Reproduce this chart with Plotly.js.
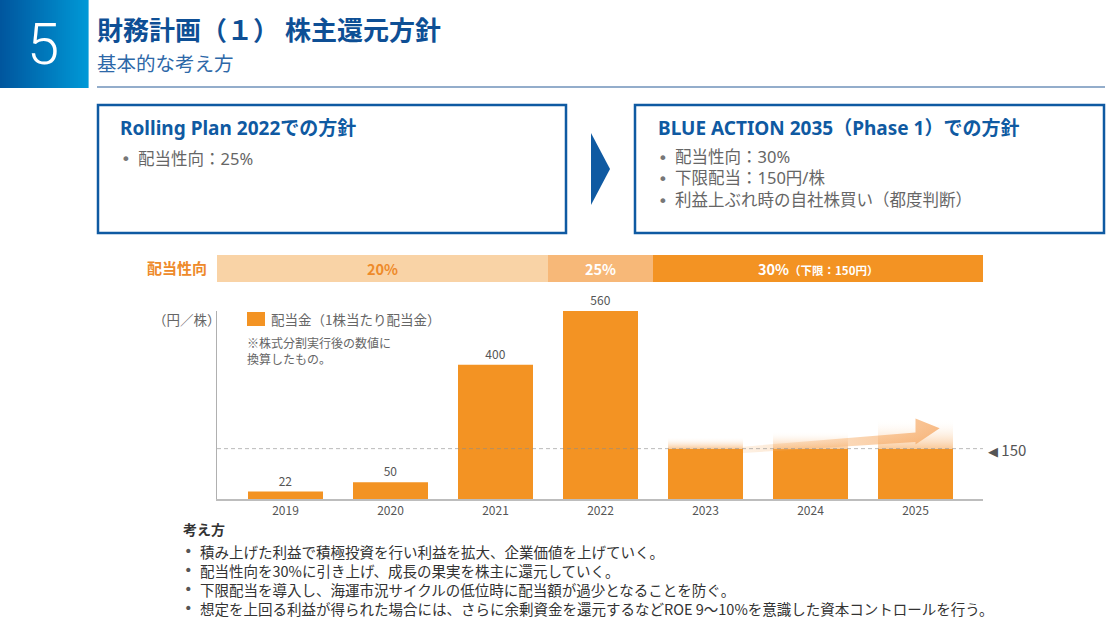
<!DOCTYPE html>
<html><head><meta charset="utf-8">
<script src="https://cdn.plot.ly/plotly-3.0.1.min.js"></script>
<style>html,body{margin:0;padding:0;background:#fff}#chart{width:1120px;height:627px}</style>
</head><body><div id="chart"></div>
<script>
// ---------- data ----------
const years = ['2019','2020','2021','2022','2023','2024','2025'];
const dividends = [22, 50, 400, 560, 150, 150, 150];
const showValue = [true, true, true, true, false, false, false];
const forecastLift = [0, 0, 0, 0, 35, 52, 88];
const floorDividend = 150;
const payoutLabels = ['20%', '25%', '30%'];
const payoutNotes = ['', '', '（下限：150円）'];
const payoutFirstIdx = [0, 3, 4];
const payoutLastIdx = [2, 3, 6];
const payoutRowLabel = '配当性向';
const unitLabel = '（円／株）';
const legendLabel = '配当金（1株当たり配当金）';
const noteLines = ['※株式分割実行後の数値に', '換算したもの。'];
const headerNumber = '5';
const titleText = '財務計画（１） 株主還元方針';
const subtitleText = '基本的な考え方';
const leftBoxTitle = 'Rolling Plan 2022での方針';
const leftBoxItems = ['配当性向：25%'];
const rightBoxTitle = 'BLUE ACTION 2035（Phase 1）での方針';
const rightBoxItems = ['配当性向：30%', '下限配当：150円/株', '利益上ぶれ時の自社株買い（都度判断）'];
const thinkingTitle = '考え方';
const thinkingItems = [
  '積み上げた利益で積極投資を行い利益を拡大、企業価値を上げていく。',
  '配当性向を30%に引き上げ、成長の果実を株主に還元していく。',
  '下限配当を導入し、海運市況サイクルの低位時に配当額が過少となることを防ぐ。',
  '想定を上回る利益が得られた場合には、さらに余剰資金を還元するなどROE 9～10%を意識した資本コントロールを行う。'
];

// ---------- style / geometry ----------
const W = 1120, H = 627;
const PL = 217, PR = 983, PT = 311, PB = 499;
const PITCH = 105, FIRST_C = 285.5, BARW = 75;
const xmin = -(FIRST_C - PL) / PITCH;
const xmax = xmin + (PR - PL) / PITCH;
const JP = '"Noto Sans CJK JP", "Noto Sans", sans-serif';
const LATIN_JP = '"Noto Sans", "Noto Sans CJK JP", sans-serif';
const BULLET = '"DejaVu Sans", sans-serif';
const BLUE = '#0F5AA2';
const ORANGE = '#F39323';
const payoutFill = ['#F9D3A6', '#F7B878', '#F39323'];
const payoutText = ['#EE8A2A', '#FFFFFF', '#FFFFFF'];
const px = x => x / W;
const py = y => 1 - y / H;

const shapes = [];
const annotations = [];
function txt(text, x, y, size, color, opts) {
  opts = opts || {};
  annotations.push(Object.assign({
    text: text, xref: 'paper', yref: 'paper', x: px(x), y: py(y),
    xanchor: 'left', yanchor: opts.yanchor || 'middle', showarrow: false, borderpad: 0,
    align: 'left',
    font: {family: opts.family || JP, size: size, color: color, weight: opts.bold ? 700 : 400}
  }, opts.extra || {}));
}
function rectPx(x0, y0, x1, y1, fill, line) {
  shapes.push({type: 'rect', xref: 'paper', yref: 'paper',
    x0: px(x0), x1: px(x1), y0: py(y1), y1: py(y0),
    fillcolor: fill || 'rgba(0,0,0,0)',
    line: line || {width: 0}, layer: 'above'});
}

// header gradient block
const N = 44;
for (let i = 0; i < N; i++) {
  const t = i / (N - 1);
  const g = Math.round(86 + t * 66), b = Math.round(158 + t * 56);
  rectPx(i * 88 / N, 0, (i + 1) * 88 / N + 0.6, 88, `rgb(0,${g},${b})`);
}
annotations.push({text: headerNumber, xref: 'paper', yref: 'paper', x: px(43), y: py(44), xanchor: 'center', yanchor: 'middle',
  showarrow: false, font: {family: 'Roboto, "Liberation Sans", sans-serif', size: 58, color: '#fff', weight: 300}});
txt(titleText, 96, 29, 26, '#0E4F95', {bold: true});
txt(subtitleText, 96, 62, 19.5, '#2D68A8');
shapes.push({type: 'line', xref: 'paper', yref: 'paper', x0: px(97), x1: px(1105), y0: py(87), y1: py(87), line: {color: '#93ADCB', width: 2}});

// policy boxes
rectPx(98, 105, 566, 233, null, {color: BLUE, width: 2.5});
rectPx(635, 105, 1104, 233, null, {color: BLUE, width: 2.5});
shapes.push({type: 'path', xref: 'paper', yref: 'paper',
  path: `M ${px(591)} ${py(133)} L ${px(610)} ${py(169)} L ${px(591)} ${py(205)} Z`,
  fillcolor: BLUE, line: {width: 0}});
const BOX_FS = 16.5, BOX_LH = BOX_FS * 1.3;
txt(leftBoxTitle, 119, 128, 19, BLUE, {bold: true, family: LATIN_JP});
txt(leftBoxItems.map(() => '•').join('<br>'), 120, 160 - BOX_LH / 2, BOX_FS, '#777', {yanchor: 'top', family: BULLET});
txt(leftBoxItems.join('<br>'), 137, 156.5 - BOX_LH / 2, BOX_FS, '#666', {yanchor: 'top', family: LATIN_JP});
txt(rightBoxTitle, 657, 128, 19, BLUE, {bold: true, family: LATIN_JP});
txt(rightBoxItems.map(() => '•').join('<br>'), 657, 158.5 - BOX_LH / 2, BOX_FS, '#777', {yanchor: 'top', family: BULLET});
txt(rightBoxItems.join('<br>'), 674, 155 - BOX_LH / 2, BOX_FS, '#666', {yanchor: 'top', family: LATIN_JP});

// payout ratio strip
payoutLabels.forEach((lab, i) => {
  const x0 = payoutFirstIdx[i] === 0 ? xmin : payoutFirstIdx[i] - 0.5;
  const x1 = payoutLastIdx[i] === years.length - 1 ? xmax : payoutLastIdx[i] + 0.5;
  shapes.push({type: 'rect', xref: 'x', yref: 'paper', x0: x0, x1: x1, y0: py(282), y1: py(255),
    fillcolor: payoutFill[i], line: {width: 0}, layer: 'below'});
  const note = payoutNotes[i] ? `<span style="font-size:11.5px">${payoutNotes[i]}</span>` : '';
  annotations.push({text: lab + note, xref: 'x', yref: 'paper', x: (x0 + x1) / 2, y: py(268.5),
    xanchor: 'center', yanchor: 'middle', showarrow: false,
    font: {family: JP, size: 14.5, color: payoutText[i], weight: 700}});
});
txt(payoutRowLabel, 146, 268, 15, '#EE8A2A', {bold: true});

// legend & notes
txt(unitLabel, 152, 319, 13.5, '#666');
rectPx(247, 312, 265, 326, ORANGE);
txt(legendLabel, 270, 319, 13.5, '#666');
txt(noteLines.join('<br>'), 246, 333, 12, '#666', {yanchor: 'top'});

// floor line
shapes.push({type: 'line', xref: 'x', yref: 'y', x0: xmin, x1: xmax, y0: floorDividend, y1: floorDividend,
  line: {color: 'rgba(140,140,140,0.6)', width: 1, dash: '4px,3px'}, layer: 'above'});
txt('<span style="font-family:DejaVu Sans;font-size:13px">◀</span> 150', 987, 449, 15, '#555');

// thinking text
const TH_FS = 14.5, TH_LH = TH_FS * 1.3;
txt(thinkingTitle, 182, 529, 14, '#333', {bold: true});
txt(thinkingItems.map(() => '•').join('<br>'), 183, 551.5 - TH_LH / 2, TH_FS, '#555', {yanchor: 'top', family: BULLET});
txt(thinkingItems.join('<br>'), 199, 549 - TH_LH / 2, TH_FS, '#333', {yanchor: 'top'});

// ---------- traces ----------
const xs = years.map((_, i) => i);
const traces = [];
// glow above forecast bars
xs.forEach(i => {
  if (forecastLift[i] > 0) {
    const a = i - BARW / PITCH / 2, b = i + BARW / PITCH / 2;
    const y0 = dividends[i], y1 = dividends[i] + forecastLift[i];
    traces.push({type: 'scatter', mode: 'lines', x: [a, b, b, a, a], y: [y0, y0, y1, y1, y0],
      fill: 'toself', line: {width: 0}, fillcolor: 'rgba(249,200,150,0.35)',
      fillgradient: {type: 'vertical', colorscale: [[0, 'rgba(248,188,128,0.8)'], [1, 'rgba(255,255,255,0)']]},
      hoverinfo: 'skip', showlegend: false});
  }
});
// rising arrow
(function () {
  const s = 4 + BARW / PITCH / 2, e = 6.0, tip = 6.23;
  traces.push({type: 'scatter', mode: 'lines',
    x: [s, e, e, tip, e, e, s, s],
    y: [137, 170, 162, 211, 240, 198, 156, 137],
    fill: 'toself', line: {width: 0}, fillcolor: 'rgba(246,170,100,0.45)',
    fillgradient: {type: 'horizontal', colorscale: [[0, 'rgba(248,185,120,0.2)'], [1, 'rgba(245,160,85,0.7)']]},
    hoverinfo: 'skip', showlegend: false});
})();
traces.unshift({type: 'bar', x: xs, y: dividends, width: BARW / PITCH,
  marker: {color: ORANGE, line: {width: 0}},
  text: dividends.map((v, i) => showValue[i] ? String(v) : ''),
  textposition: 'outside', cliponaxis: false,
  textfont: {family: JP, size: 12, color: '#555'},
  hoverinfo: 'skip', showlegend: false});

const layout = {
  width: W, height: H, margin: {l: 0, r: 0, t: 0, b: 0},
  paper_bgcolor: '#fff', plot_bgcolor: 'rgba(0,0,0,0)',
  showlegend: false,
  font: {family: JP},
  xaxis: {domain: [px(PL), px(PR)], range: [xmin, xmax], tickvals: xs, ticktext: years,
    showline: true, linecolor: '#bdbdbd', linewidth: 1.5, ticks: '', showgrid: false, zeroline: false,
    tickfont: {family: JP, size: 12, color: '#555'}, fixedrange: true},
  yaxis: {domain: [py(PB), py(PT)], range: [0, 560], showline: true, linecolor: '#b0b0b0', linewidth: 1,
    showticklabels: false, ticks: '', showgrid: false, zeroline: false, fixedrange: true},
  shapes: shapes, annotations: annotations
};
Plotly.newPlot('chart', traces, layout, {staticPlot: true, displayModeBar: false});
</script></body></html>
